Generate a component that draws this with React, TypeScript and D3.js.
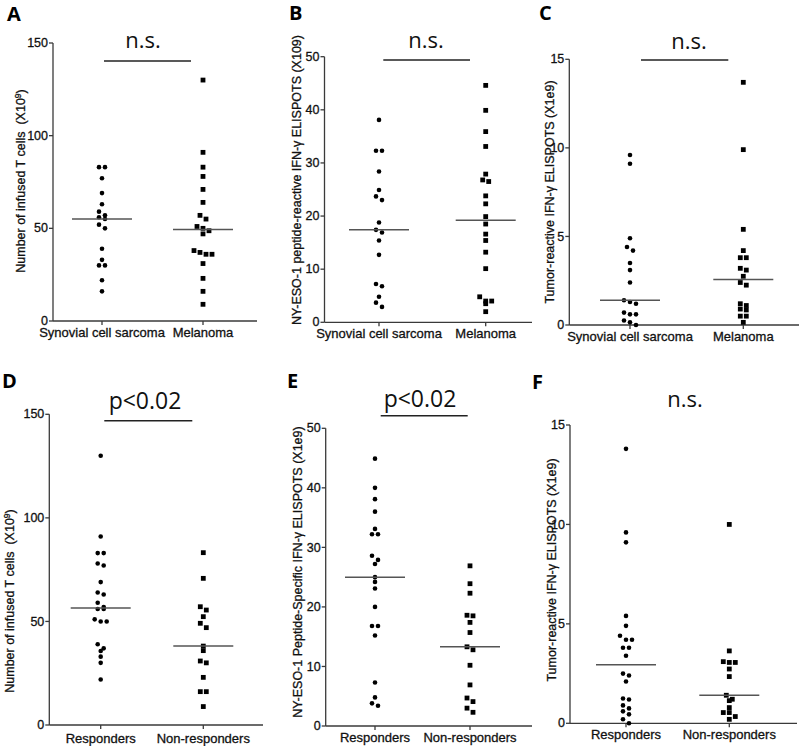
import React from 'react';
import * as d3 from 'd3';

// categories
const catsTop = ['Synovial cell sarcoma', 'Melanoma'];
const catsBottom = ['Responders', 'Non-responders'];

// A: infused T cells, by histology
const aSynovial = [83, 83, 77, 69, 63, 59, 56, 55, 57, 52, 50, 39, 33, 30, 30, 22, 16];
const aMelanoma = [130, 91, 83, 78, 71, 64, 57, 55, 51, 50, 48.7, 47, 37, 36, 36, 38, 31, 23, 16, 9];

// B: NY-ESO-1 peptide-reactive ELISPOTS, by histology
const bSynovial = [38.1, 32.3, 32.3, 28.4, 24.9, 23.7, 23, 18.8, 17.4, 16.9, 15.4, 12.7, 6.8, 7.2, 4.8, 3.7, 2.9];
const bMelanoma = [44.6, 39.9, 35.9, 33.1, 27.9, 26.5, 26.8, 23.8, 22.3, 19.9, 18.5, 16.6, 15.4, 13.2, 10.1, 4.8, 4.0, 3.5, 4.0, 2.0];

// C: tumor-reactive ELISPOTS, by histology
const cSynovial = [9.6, 9.1, 4.9, 4.4, 4.2, 3.5, 3.1, 2.4, 1.3, 1.2, 1.4, 0.6, 0.7, 0.6, 0.25, 0.15, 0.0];
const cMelanoma = [13.7, 9.9, 5.4, 4.2, 3.8, 3.8, 3.2, 3.1, 2.75, 2.4, 2.25, 1.2, 1.1, 0.9, 0.85, 0.5, 0.5, 0.15];

// D: infused T cells, by response
const dResp = [130, 91, 83, 83, 77, 78, 69, 63, 64, 59, 57, 56, 56, 50, 50, 51, 39, 37, 35.7, 33, 30, 22];
const dNonResp = [83.2, 70.8, 57.1, 55.5, 52.3, 49.1, 47, 38.1, 35.9, 30.9, 30, 23, 16.1, 16.1, 8.9];

// E: NY-ESO-1 peptide-specific ELISPOTS, by response
const eResp = [44.9, 40, 38.1, 36, 33.1, 32.2, 32.2, 28.6, 27.9, 27.2, 25, 24.2, 23.1, 20, 16.8, 16.8, 15.2, 7.3, 4.8, 3.4, 3.8];
const eNonResp = [26.9, 23.9, 22.3, 18.6, 18.5, 17.4, 15.7, 13.3, 12.8, 10.2, 6.9, 4.7, 4.1, 3.0, 2.3];

// F: tumor-reactive ELISPOTS, by response
const fResp = [13.8, 9.6, 9.1, 5.4, 4.9, 4.4, 4.2, 4.2, 3.8, 3.8, 3.4, 2.5, 2.4, 2.1, 1.25, 1.2, 0.9, 0.6, 0.75, 0.45, 0.2, 0.0];
const fNonResp = [10.0, 3.64, 3.06, 3.06, 3.1, 2.73, 2.35, 1.41, 1.21, 1.14, 0.79, 0.54, 0.54, 0.34, 0.2];

// tick labels
const ticksCells = [0, 50, 100, 150];
const ticksPeptide = [0, 10, 20, 30, 40, 50];
const ticksTumor = [0, 5, 10, 15];

const AXIS = '#3a3a3a';
const SANS = '"Liberation Sans", Arimo, sans-serif';
const HUMAN = '"Open Sans", "Noto Sans", sans-serif';
// the source text is a little heavy (scanned), thicken slightly
const heavy = { stroke: '#111', strokeWidth: 0.3 };

interface PanelSpec {
  letter: string;
  lx: number; ly: number;
  axisX: number; yTop: number; yBottom: number; xEnd: number;
  catX: [number, number];
  cats: string[];
  groups: number[][];
  ticks: number[];
  label: React.ReactNode;
  labelX: number; labelY: number;
  catBaseline: number;
  sig: string; sigX: number; sigBaseline: number;
  bar?: [number, number, number];
}

// spread points that share a row, centred on the column
function swarm(values: number[], y: d3.ScaleLinear<number, number>, cx: number) {
  const sorted = values.map((v) => ({ v, py: y(v) })).sort((a, b) => a.py - b.py);
  const rows: { v: number; py: number }[][] = [];
  sorted.forEach((p) => {
    const row = rows[rows.length - 1];
    if (row && Math.abs(p.py - row[0].py) < 4.5) row.push(p);
    else rows.push([p]);
  });
  const out: { x: number; y: number }[] = [];
  rows.forEach((row) => {
    row.forEach((p, i) => out.push({ x: cx + (i - (row.length - 1) / 2) * 6, y: p.py }));
  });
  return out;
}

const Panel: React.FC<{ p: PanelSpec }> = ({ p }) => {
  const y = d3.scaleLinear().domain([p.ticks[0], p.ticks[p.ticks.length - 1]]).range([p.yBottom, p.yTop]);
  const x = d3.scalePoint<string>().domain(p.cats).range(p.catX);
  return (
    <g>
      <text x={p.lx} y={p.ly} fontFamily={HUMAN} fontWeight={700} fontSize={20} fill="#000">{p.letter}</text>
      {/* axes */}
      <line x1={p.axisX} x2={p.axisX} y1={p.yTop} y2={p.yBottom} stroke={AXIS} strokeWidth={1.3} />
      <line x1={p.axisX} x2={p.xEnd} y1={p.yBottom} y2={p.yBottom} stroke={AXIS} strokeWidth={1.3} />
      {p.ticks.map((t) => (
        <g key={t}>
          <line x1={p.axisX - 4} x2={p.axisX} y1={y(t)} y2={y(t)} stroke={AXIS} strokeWidth={1.3} />
          <text x={p.axisX - 5} y={y(t)} dy="0.33em" textAnchor="end" fontFamily={SANS} fontSize={12.5} fill="#111" {...heavy}>{t}</text>
        </g>
      ))}
      {p.cats.map((c) => (
        <g key={c}>
          <line x1={x(c)} x2={x(c)} y1={p.yBottom} y2={p.yBottom + 4} stroke={AXIS} strokeWidth={1.3} />
          <text x={x(c)} y={p.catBaseline} textAnchor="middle" fontFamily={SANS} fontSize={13} fill="#111" {...heavy}>{c}</text>
        </g>
      ))}
      <text transform={`translate(${p.labelX},${p.labelY}) rotate(-90)`} textAnchor="middle" dy="0.35em"
        fontFamily={SANS} fontSize={12.5} fill="#111" {...heavy}>{p.label}</text>
      {/* points + medians */}
      {p.groups.map((g, gi) => {
        const cx = x(p.cats[gi])!;
        const pts = swarm(g, y, cx);
        const med = d3.median(g)!;
        return (
          <g key={gi}>
            {pts.map((pt, i) => gi === 0
              ? <circle key={i} cx={pt.x} cy={pt.y} r={2.3} fill="#000" />
              : <rect key={i} x={pt.x - 2.4} y={pt.y - 2.4} width={4.8} height={4.8} fill="#000" />)}
            <line x1={cx - 30} x2={cx + 30} y1={y(med)} y2={y(med)} stroke="#555" strokeWidth={1.5} />
          </g>
        );
      })}
      {p.bar && <line x1={p.bar[0]} x2={p.bar[1]} y1={p.bar[2]} y2={p.bar[2]} stroke="#222" strokeWidth={1.6} />}
      <text x={p.sigX} y={p.sigBaseline} textAnchor="middle" fontFamily={HUMAN} fontSize={p.sig === 'n.s.' ? 22 : 23} fill="#111">{p.sig}</text>
    </g>
  );
};

const sup = (base: string) => (
  <>
    {base}<tspan dy={-4.5} fontSize={8.5}>9</tspan><tspan dy={4.5}>)</tspan>
  </>
);

export default function App() {
  const panels: PanelSpec[] = [
    {
      letter: 'A', lx: 7, ly: 21, axisX: 53, yTop: 43, yBottom: 321, xEnd: 257, catX: [102, 203],
      cats: catsTop, groups: [aSynovial, aMelanoma], ticks: ticksCells,
      label: sup('Number of infused T cells\u00a0\u00a0(X10'), labelX: 21, labelY: 181, catBaseline: 337,
      sig: 'n.s.', sigX: 143, sigBaseline: 48, bar: [104, 191, 61],
    },
    {
      letter: 'B', lx: 289, ly: 20, axisX: 324.5, yTop: 56.7, yBottom: 322.3, xEnd: 532, catX: [379, 485.7],
      cats: catsTop, groups: [bSynovial, bMelanoma], ticks: ticksPeptide,
      label: 'NY-ESO-1 peptide-reactive IFN-γ ELISPOTS (X109)', labelX: 297, labelY: 180, catBaseline: 338,
      sig: 'n.s.', sigX: 426, sigBaseline: 48, bar: [383.3, 470, 60],
    },
    {
      letter: 'C', lx: 539, ly: 20, axisX: 569.3, yTop: 59.3, yBottom: 325, xEnd: 799, catX: [630, 743.3],
      cats: catsTop, groups: [cSynovial, cMelanoma], ticks: ticksTumor,
      label: 'Tumor-reactive IFN-γ ELISPOTS (X1e9)', labelX: 550, labelY: 192, catBaseline: 340.5,
      sig: 'n.s.', sigX: 689, sigBaseline: 49, bar: [641, 728.3, 60],
    },
    {
      letter: 'D', lx: 2, ly: 388, axisX: 49.3, yTop: 414.3, yBottom: 725, xEnd: 263, catX: [100.7, 203.3],
      cats: catsBottom, groups: [dResp, dNonResp], ticks: ticksCells,
      label: sup('Number of infused T cells\u00a0\u00a0(X10'), labelX: 10, labelY: 601, catBaseline: 742.5,
      sig: 'p<0.02', sigX: 145, sigBaseline: 409, bar: [104.3, 192.3, 420.7],
    },
    {
      letter: 'E', lx: 287, ly: 388, axisX: 325.7, yTop: 428.3, yBottom: 726, xEnd: 532, catX: [375, 470],
      cats: catsBottom, groups: [eResp, eNonResp], ticks: ticksPeptide,
      label: 'NY-ESO-1 Peptide-Specific IFN-γ ELISPOTS (X1e9)', labelX: 298, labelY: 572, catBaseline: 741.5,
      sig: 'p<0.02', sigX: 420, sigBaseline: 406.7, bar: [380.7, 467.7, 415.7],
    },
    {
      letter: 'F', lx: 532, ly: 389, axisX: 570, yTop: 425, yBottom: 723.3, xEnd: 797, catX: [626, 729.3],
      cats: catsBottom, groups: [fResp, fNonResp], ticks: ticksTumor,
      label: 'Tumor-reactive IFN-γ ELISPOTS (X1e9)', labelX: 552, labelY: 570, catBaseline: 738.5,
      sig: 'n.s.', sigX: 685, sigBaseline: 407,
    },
  ];
  return (
    <svg width={800} height={746} style={{ position: 'absolute', left: 0, top: 0, background: '#fff' }}>
      <rect width={800} height={746} fill="#fff" />
      {panels.map((p) => <Panel key={p.letter} p={p} />)}
    </svg>
  );
}
